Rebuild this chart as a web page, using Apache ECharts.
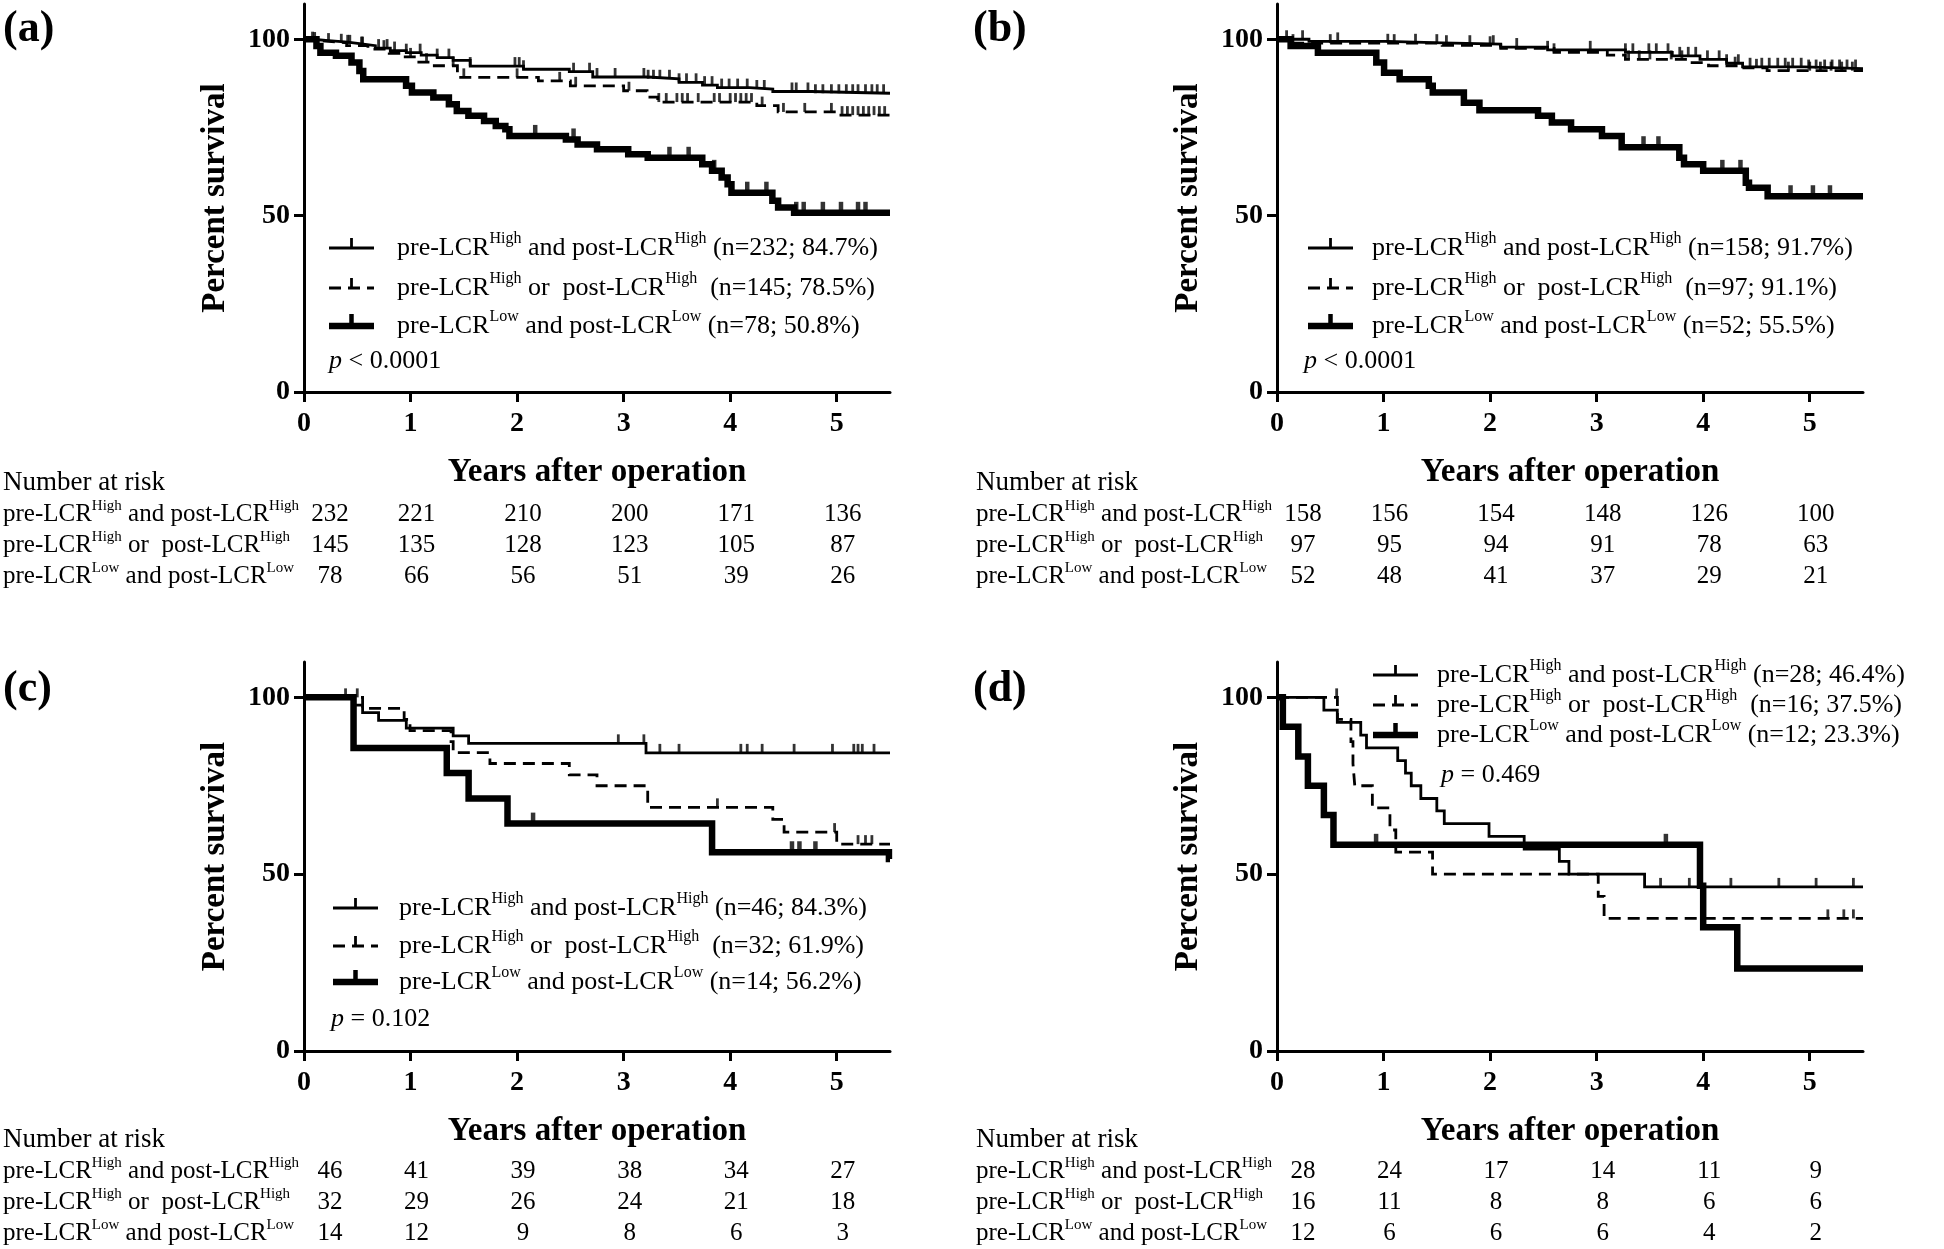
<!DOCTYPE html>
<html><head><meta charset="utf-8">
<script src="https://cdn.jsdelivr.net/npm/echarts@6/dist/echarts.min.js"></script>
<style>html,body{margin:0;padding:0;background:#fff}#c{width:1944px;height:1249px}</style>
</head><body><div id="c"></div>
<script>
// ---------------- DATA ----------------
const xTicks = [0, 1, 2, 3, 4, 5];
const yTicks = [0, 50, 100];
const panelTags = ['(a)', '(b)', '(c)', '(d)'];
const groupParts = [
  ['pre-LCR', 'High', ' and post-LCR', 'High'],
  ['pre-LCR', 'High', ' or  post-LCR', 'High'],
  ['pre-LCR', 'Low', ' and post-LCR', 'Low']
];
const xName = 'Years after operation';
const yName = 'Percent survival';
const riskTitle = 'Number at risk';

// Panel (a)
const a1_t = [0.08,0.23,0.41,0.54,0.67,0.81,0.96,1.10,1.25,1.40,1.56,2.06,2.49,2.71,3.23,3.52,3.74,3.88,4.18,4.40,4.76];
const a1_s = [99.6,99.2,98.7,98.2,97.5,96.8,96.2,95.5,94.8,94.0,92.4,91.5,90.8,89.3,88.8,87.8,87.0,86.3,85.9,85.2,84.7];
const a1_c = [0.08,0.23,0.41,0.43,0.54,0.70,0.78,0.85,0.96,1.09,1.25,1.36,1.56,1.98,2.02,2.06,2.53,2.68,2.75,2.92,3.19,3.23,3.28,3.34,3.43,3.52,3.59,3.68,3.76,3.83,3.92,3.99,4.07,4.16,4.25,4.32,4.58,4.62,4.73,4.80,4.87,4.95,5.02,5.09,5.15,5.20,5.27,5.33,5.38,5.44];
const a2_t = [0.05,0.2,0.4,0.6,0.8,0.95,1.05,1.2,1.44,2.2,2.5,3.0,3.22,3.32,4.25,4.45,5.0];
const a2_s = [99.5,99.0,98.2,97.2,96.0,95.0,93.5,92.5,89.2,88.2,86.8,85.4,83.6,82.2,81.2,79.4,78.5];
const a2_c = [0.1,0.35,0.55,0.75,1.0,1.15,1.4,1.5,2.0,2.4,2.55,3.05,3.33,3.4,3.5,3.55,3.6,3.7,3.85,3.9,4.0,4.05,4.1,4.15,4.2,4.3,4.5,4.7,4.95,5.05,5.1,5.15,5.2,5.25,5.3,5.35,5.4,5.45];
const a3_t = [0.117,0.154,0.30,0.446,0.52,0.556,0.958,1.013,1.214,1.36,1.434,1.543,1.69,1.80,1.89,1.928,2.458,2.568,2.75,3.043,3.226,3.738,3.83,3.92,3.976,4.012,4.396,4.45,4.6];
const a3_s = [98.1,96.2,95.3,93.4,91.0,88.7,86.8,84.9,83.5,81.6,79.7,78.3,76.8,75.4,74.5,72.6,71.6,70.2,68.8,67.4,66.4,64.6,62.7,60.8,58.9,56.5,54.2,52.3,50.8];
const a3_c = [2.17,2.53,3.43,3.61,3.85,4.16,4.34,4.62,4.69,4.87,5.04,5.2,5.27];
const a_risk1 = [232,221,210,200,171,136];
const a_risk2 = [145,135,128,123,105,87];
const a_risk3 = [78,66,56,51,39,26];
const a_legendTail = [' (n=232; 84.7%)', '  (n=145; 78.5%)', ' (n=78; 50.8%)'];
const a_p = ' < 0.0001';

// Panel (b)
const b1_t = [0.3,1.04,1.55,2.10,2.54,3.27,3.71,3.97,4.22,4.37,4.95];
const b1_s = [99.4,99.0,98.6,97.8,97.0,96.3,95.3,94.3,93.2,92.2,91.7];
const b1_c = [0.09,0.24,0.57,1.04,1.30,1.59,1.81,2.03,2.25,2.54,2.94,3.27,3.34,3.49,3.56,3.67,3.78,3.86,3.93,4.04,4.15,4.22,4.33,4.44,4.55,4.62,4.70,4.77,4.84,4.92,4.99,5.06,5.14,5.21,5.28,5.35,5.43];
const b2_t = [0.13,1.55,2.1,2.6,3.1,3.27,3.85,4.05,4.35,4.6];
const b2_s = [98.9,98.3,97.4,96.3,95.5,94.3,93.4,92.5,91.9,91.1];
const b2_c = [0.15,0.5,1.1,1.5,2.0,2.6,3.3,3.4,3.5,3.7,3.8,4.3,4.5,4.8,5.0,5.1,5.2,5.3,5.4];
const b3_t = [0.128,0.384,0.932,1.005,1.151,1.425,1.462,1.754,1.90,2.45,2.58,2.76,3.05,3.235,3.776,3.82,4.0,4.40,4.43,4.605];
const b3_s = [98.1,96.2,93.4,90.5,88.7,86.8,84.9,82.0,79.9,78.3,76.4,74.5,72.6,69.4,66.4,64.6,62.7,59.3,57.9,55.5];
const b3_c = [3.44,3.58,4.18,4.35,4.82,5.03,5.19];
const b_risk1 = [158,156,154,148,126,100];
const b_risk2 = [97,95,94,91,78,63];
const b_risk3 = [52,48,41,37,29,21];
const b_legendTail = [' (n=158; 91.7%)', '  (n=97; 91.1%)', ' (n=52; 55.5%)'];
const b_p = ' < 0.0001';

// Panel (c)
const c1_t = [0.465,0.55,0.70,0.96,1.40,1.545,3.21];
const c1_s = [97.8,95.7,93.5,91.3,89.1,87.0,84.3];
const c1_c = [0.39,2.95,3.19,3.34,3.52,4.10,4.16,4.30,4.60,4.96,5.16,5.20,5.24,5.35];
const c2_t = [0.55,0.94,0.995,1.38,1.40,1.745,2.49,2.75,3.226,4.40,4.506,5.0];
const c2_s = [96.9,93.8,90.6,87.5,84.4,81.3,78.1,75.0,68.9,65.5,61.9,58.5];
const c2_c = [0.5,3.88,4.98,5.2,5.27,5.33];
const c3_t = [0.465,1.34,1.545,1.91,3.83,5.49];
const c3_s = [85.7,78.6,71.4,64.3,56.2,54.3];
const c3_c = [2.15,4.58,4.65,4.80];
const c_risk1 = [46,41,39,38,34,27];
const c_risk2 = [32,29,26,24,21,18];
const c_risk3 = [14,12,9,8,6,3];
const c_legendTail = [' (n=46; 84.3%)', '  (n=32; 61.9%)', ' (n=14; 56.2%)'];
const c_p = ' = 0.102';

// Panel (d)
const d1_t = [0.44,0.566,0.786,0.84,1.133,1.206,1.26,1.35,1.50,1.57,1.99,2.32,2.65,2.74,3.45];
const d1_s = [96.4,92.9,89.3,85.7,82.1,78.6,75.0,71.4,67.9,64.3,60.7,57.1,53.6,50.0,46.4];
const d1_c = [3.6,3.87,4.26,4.71,5.06,5.41];
const d2_t = [0.567,0.694,0.713,0.73,0.895,1.06,1.115,1.46,3.015,3.07];
const d2_s = [93.75,87.5,81.25,75.0,68.75,62.5,56.25,50.0,43.75,37.5];
const d2_c = [0.56,5.17,5.32,5.41];
const d3_t = [0.055,0.2,0.29,0.44,0.53,3.97,4.0,4.32];
const d3_s = [91.7,83.3,75.0,66.7,58.3,46.7,35.0,23.3];
const d3_c = [0.93,3.65];
const d_risk1 = [28,24,17,14,11,9];
const d_risk2 = [16,11,8,8,6,6];
const d_risk3 = [12,6,6,6,4,2];
const d_legendTail = [' (n=28; 46.4%)', '  (n=16; 37.5%)', ' (n=12; 23.3%)'];
const d_p = ' = 0.469';

// ---------------- LAYOUT / STYLE ----------------
const F = "'Liberation Serif','Times New Roman',serif";
const curves = [
  [[a1_t,a1_s,a1_c],[a2_t,a2_s,a2_c],[a3_t,a3_s,a3_c]],
  [[b1_t,b1_s,b1_c],[b2_t,b2_s,b2_c],[b3_t,b3_s,b3_c]],
  [[c1_t,c1_s,c1_c],[c2_t,c2_s,c2_c],[c3_t,c3_s,c3_c]],
  [[d1_t,d1_s,d1_c],[d2_t,d2_s,d2_c],[d3_t,d3_s,d3_c]]
];
const risks = [[a_risk1,a_risk2,a_risk3],[b_risk1,b_risk2,b_risk3],[c_risk1,c_risk2,c_risk3],[d_risk1,d_risk2,d_risk3]];
const tails = [a_legendTail,b_legendTail,c_legendTail,d_legendTail];
const pvals = [a_p,b_p,c_p,d_p];

const layout = [
  {grid:{left:304,top:4,width:586,height:388}, tag:[3,30], leg:{ix:329,tx:397,ys:[248,288,326],px:329,py:361}, tab:{lx:3,ys:[483,514,545,576]}},
  {grid:{left:1277,top:4,width:586,height:388}, tag:[973,30], leg:{ix:1308,tx:1372,ys:[248,288,326],px:1304,py:361}, tab:{lx:976,ys:[483,514,545,576]}},
  {grid:{left:304,top:662,width:586,height:389}, tag:[3,690], leg:{ix:333,tx:399,ys:[908,946,982],px:331,py:1019}, tab:{lx:3,ys:[1140,1171,1202,1233]}},
  {grid:{left:1277,top:662,width:586,height:389}, tag:[973,690], leg:{ix:1373,tx:1437,ys:[675,705,735],px:1441,py:775}, tab:{lx:976,ys:[1140,1171,1202,1233]}}
];
const lineW = [2.8, 2.8, 6.5];
const tickW = [2.8, 2.8, 4.5];
const tickH = [9, 9, 11];
const dash = [12, 7];

function survAt(ts, ss, t) {
  let v = 100;
  for (let i = 0; i < ts.length; i++) if (ts[i] <= t) v = ss[i];
  return v;
}
function richLabel(parts) {
  return '{n|' + parts[0] + '}{s|' + parts[1] + '}{n|' + parts[2] + '}{s|' + parts[3] + '}';
}

const chart = echarts.init(document.getElementById('c'), null, {renderer: 'canvas'});
const grids = [], xAxes = [], yAxes = [], series = [];
layout.forEach((L, i) => {
  grids.push(Object.assign({outerBoundsMode: 'none', containLabel: false}, L.grid));
  xAxes.push({
    gridIndex: i, type: 'value', min: 0, max: 5.5,
    axisLine: {onZero: false, lineStyle: {color: '#000', width: 3}},
    axisTick: {customValues: xTicks, length: 10, lineStyle: {color: '#000', width: 3}},
    axisLabel: {customValues: xTicks, fontFamily: F, fontWeight: 'bold', fontSize: 28, color: '#000', margin: 18},
    splitLine: {show: false},
    name: xName, nameLocation: 'middle', nameGap: 64,
    nameTextStyle: {fontFamily: F, fontWeight: 'bold', fontSize: 33, color: '#000'}
  });
  yAxes.push({
    gridIndex: i, type: 'value', min: 0, max: 110,
    axisLine: {lineStyle: {color: '#000', width: 3}},
    axisTick: {customValues: yTicks, length: 10, lineStyle: {color: '#000', width: 3}},
    axisLabel: {customValues: yTicks, fontFamily: F, fontWeight: 'bold', fontSize: 28, color: '#000', margin: 14},
    splitLine: {show: false},
    name: yName, nameLocation: 'middle', nameGap: 72, nameRotate: 90,
    nameTextStyle: {fontFamily: F, fontWeight: 'bold', fontSize: 33, color: '#000'}
  });
  curves[i].forEach((cv, k) => {
    const [ts, ss, cs] = cv;
    const data = [[0, 100]];
    ts.forEach((t, j) => data.push([t, ss[j]]));
    data.push([5.5, ss[ss.length - 1]]);
    series.push({
      type: 'line', xAxisIndex: i, yAxisIndex: i, step: 'end', symbol: 'none',
      silent: true, animation: false, z: 3 + k,
      lineStyle: {color: '#000', width: lineW[k], type: k === 1 ? dash : 'solid', cap: 'butt', join: 'miter'},
      data: data
    });
    series.push({
      type: 'scatter', xAxisIndex: i, yAxisIndex: i, symbol: 'rect',
      symbolSize: [tickW[k], tickH[k]], symbolOffset: [0, -tickH[k] / 2],
      silent: true, animation: false, z: 3 + k,
      itemStyle: {color: '#000'},
      data: cs.map(t => [t, survAt(ts, ss, t)])
    });
  });
});

chart.setOption({
  backgroundColor: '#fff',
  animation: false,
  grid: grids, xAxis: xAxes, yAxis: yAxes, series: series
});

// ---------------- GRAPHICS (labels, legends, risk tables) ----------------
const legRich = {
  n: {fontFamily: F, fontSize: 26, color: '#000', lineHeight: 34},
  s: {fontFamily: F, fontSize: 16, color: '#000', verticalAlign: 'top'},
  i: {fontFamily: F, fontSize: 26, fontStyle: 'italic', color: '#000', lineHeight: 34}
};
const tabRich = {
  n: {fontFamily: F, fontSize: 25, color: '#000', lineHeight: 30},
  s: {fontFamily: F, fontSize: 15, color: '#000', verticalAlign: 'top'}
};
const g = [];
layout.forEach((L, i) => {
  g.push({type: 'text', x: L.tag[0], y: L.tag[1], style: {text: panelTags[i], font: 'bold 44px ' + F, fill: '#000', verticalAlign: 'middle', align: 'left'}});
  // legend
  for (let k = 0; k < 3; k++) {
    const y = L.leg.ys[k];
    g.push({type: 'line', shape: {x1: L.leg.ix, y1: y, x2: L.leg.ix + 45, y2: y},
      style: {stroke: '#000', lineWidth: lineW[k], lineDash: k === 1 ? dash : null}});
    g.push({type: 'rect', shape: {x: L.leg.ix + 22.5 - tickW[k] / 2, y: y - tickH[k] - 1, width: tickW[k], height: tickH[k] + 1},
      style: {fill: '#000'}});
    g.push({type: 'text', x: L.leg.tx, y: y, style: {text: richLabel(groupParts[k]) + '{n|' + tails[i][k] + '}', rich: legRich, verticalAlign: 'middle', align: 'left'}});
  }
  g.push({type: 'text', x: L.leg.px, y: L.leg.py, style: {text: '{i|p}{n|' + pvals[i] + '}', rich: legRich, verticalAlign: 'middle', align: 'left'}});
  // risk table
  g.push({type: 'text', x: L.tab.lx, y: L.tab.ys[0], style: {text: riskTitle, font: '27px ' + F, fill: '#000', verticalAlign: 'middle', align: 'left'}});
  for (let k = 0; k < 3; k++) {
    const y = L.tab.ys[k + 1];
    g.push({type: 'text', x: L.tab.lx, y: y, style: {text: richLabel(groupParts[k]), rich: tabRich, verticalAlign: 'middle', align: 'left'}});
    risks[i][k].forEach((v, j) => {
      const px = chart.convertToPixel({xAxisIndex: i}, xTicks[j]) + (j === 0 ? 26 : 6);
      g.push({type: 'text', x: px, y: y, style: {text: String(v), font: '25px ' + F, fill: '#000', verticalAlign: 'middle', align: 'center'}});
    });
  }
});
chart.setOption({graphic: g});
</script></body></html>
